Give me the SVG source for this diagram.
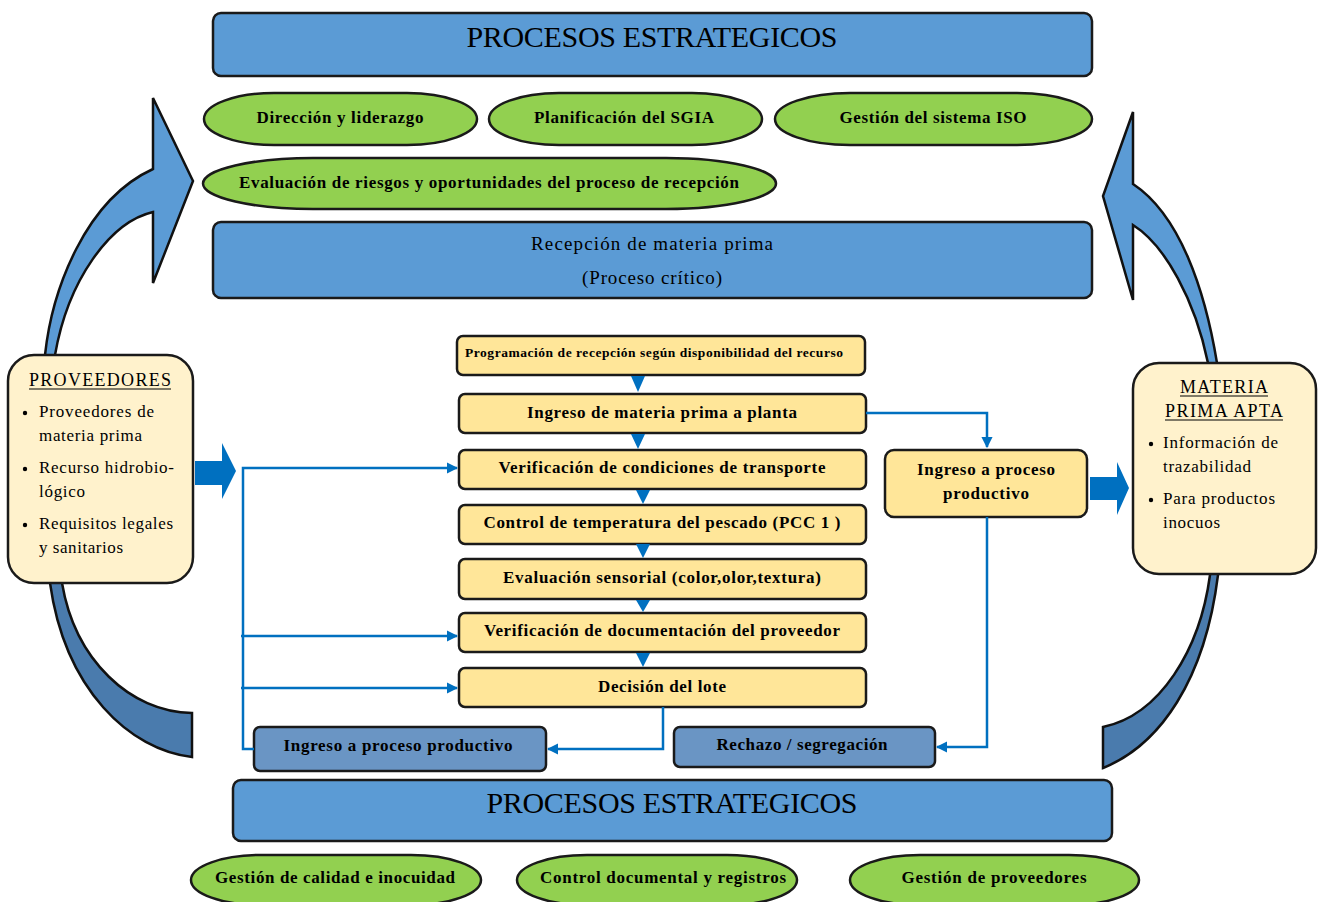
<svg xmlns="http://www.w3.org/2000/svg" width="1325" height="902" viewBox="0 0 1325 902">
<defs>
<style>
.ban{fill:#5b9bd5;stroke:#1a1a1a;stroke-width:2.5}
.grn{fill:#92d050;stroke:#1a1a1a;stroke-width:2.5}
.yel{fill:#ffe699;stroke:#1a1a1a;stroke-width:2.5}
.crm{fill:#fff2cc;stroke:#1a1a1a;stroke-width:2.5}
.stl{fill:#6a95c4;stroke:#1a1a1a;stroke-width:2.5}
.t{font-family:"Liberation Serif","DejaVu Serif",serif;fill:#000}
.b{font-weight:bold}
.c{text-anchor:middle}
.con{fill:none;stroke:#0070c0;stroke-width:2.5}
.tri{fill:#0070c0}
.big{fill:#0070c0}
.ul{stroke:#000;stroke-width:1.2}
.curv{stroke:#111;stroke-width:2.5;stroke-linejoin:miter}
</style>
<linearGradient id="gl" gradientUnits="userSpaceOnUse" x1="0" y1="0" x2="0" y2="902">
<stop offset="0.52" stop-color="#5b9bd5"/>
<stop offset="0.64" stop-color="#4a7bad"/>
</linearGradient>
<marker id="ah" viewBox="0 0 10 10" refX="9" refY="5" markerWidth="4.5" markerHeight="4.5" orient="auto" markerUnits="strokeWidth">
<path d="M0,0 L10,5 L0,10 Z" fill="#0070c0"/>
</marker>
</defs>
<rect x="0" y="0" width="1325" height="902" fill="#ffffff"/>

<g id="arrow-left">
<path class="curv" fill="url(#gl)" d="M192,757 C130,750 65,690 50,583 C40,510 38,420 45,355 C52,290 85,200 153,169 L153,98 L193,181 L153,283 L153,212 C110,222 68,280 55,355 C50,430 52,520 62,583 C75,660 130,712 192,713 Z"/>
</g>
<g id="arrow-right">
<path class="curv" fill="url(#gl)" d="M1103,768 C1160,745 1205,680 1218,575 C1228,500 1228,420 1217,363 C1205,290 1180,215 1133,184 L1133,112 L1103,196 L1133,300 L1133,225 C1165,245 1195,300 1208,363 C1215,420 1215,510 1210,575 C1200,650 1160,715 1103,727 Z"/>
</g>

<g id="top-banner">
<rect class="ban" x="213" y="13" width="879" height="63" rx="8"/>
<text class="t c" x="652" y="47" font-size="30" textLength="371">PROCESOS ESTRATEGICOS</text>
</g>
<g id="direccion">
<rect class="grn" x="204" y="93" width="273" height="52" rx="70" ry="26"/>
<text class="t b c" x="340" y="123" font-size="17" textLength="167">Dirección y liderazgo</text>
</g>
<g id="planificacion">
<rect class="grn" x="489" y="93" width="273" height="52" rx="70" ry="26"/>
<text class="t b c" x="624" y="123" font-size="17" textLength="180">Planificación del SGIA</text>
</g>
<g id="gestion-iso">
<rect class="grn" x="775" y="93" width="317" height="52" rx="75" ry="26"/>
<text class="t b c" x="933" y="123" font-size="17" textLength="187">Gestión del sistema ISO</text>
</g>
<g id="evaluacion-riesgos">
<rect class="grn" x="203" y="158" width="573" height="51" rx="110" ry="25.5"/>
<text class="t b c" x="489" y="188" font-size="17" textLength="500">Evaluación de riesgos y oportunidades del proceso de recepción</text>
</g>
<g id="recepcion">
<rect class="ban" x="213" y="222" width="879" height="76" rx="8"/>
<text class="t c" x="652" y="250" font-size="19" textLength="242">Recepción de materia prima</text>
<text class="t c" x="652" y="284" font-size="19" textLength="140">(Proceso crítico)</text>
</g>

<g id="proveedores">
<rect class="crm" x="8" y="355" width="185" height="228" rx="26"/>
<text class="t c" x="100" y="386" font-size="18" textLength="142">PROVEEDORES</text>
<line class="ul" x1="29" y1="389" x2="171" y2="389"/>
<circle cx="25" cy="413" r="2.2" fill="#000"/>
<circle cx="25" cy="469" r="2.2" fill="#000"/>
<circle cx="25" cy="525" r="2.2" fill="#000"/>
<text class="t" x="39" y="417" font-size="17" textLength="115">Proveedores de</text>
<text class="t" x="39" y="441" font-size="17" textLength="103">materia prima</text>
<text class="t" x="39" y="473" font-size="17" textLength="135">Recurso hidrobio-</text>
<text class="t" x="39" y="497" font-size="17" textLength="46">lógico</text>
<text class="t" x="39" y="529" font-size="17" textLength="134">Requisitos legales</text>
<text class="t" x="39" y="553" font-size="17" textLength="84">y sanitarios</text>
</g>
<g id="arrow-in">
<path class="big" d="M195,461 L222,461 L222,443 L236,471 L222,499 L222,485 L195,485 Z"/>
</g>

<g id="materia-prima-apta">
<rect class="crm" x="1133" y="363" width="183" height="211" rx="26"/>
<text class="t c" x="1224" y="393" font-size="18" textLength="88">MATERIA</text>
<line class="ul" x1="1180" y1="396" x2="1268" y2="396"/>
<text class="t c" x="1224" y="417" font-size="18" textLength="118">PRIMA APTA</text>
<line class="ul" x1="1165" y1="420" x2="1283" y2="420"/>
<circle cx="1151" cy="444" r="2.2" fill="#000"/>
<circle cx="1151" cy="500" r="2.2" fill="#000"/>
<text class="t" x="1163" y="448" font-size="17" textLength="115">Información de</text>
<text class="t" x="1163" y="472" font-size="17" textLength="88">trazabilidad</text>
<text class="t" x="1163" y="504" font-size="17" textLength="112">Para productos</text>
<text class="t" x="1163" y="528" font-size="17" textLength="57">inocuos</text>
</g>
<g id="arrow-out">
<path class="big" d="M1090,477 L1117,477 L1117,462 L1129,488 L1117,515 L1117,500 L1090,500 Z"/>
</g>

<g id="programacion">
<rect class="yel" x="457" y="336" width="408" height="39" rx="6"/>
<text class="t b" x="465" y="357" font-size="13.5" textLength="378">Programación de recepción según disponibilidad del recurso</text>
</g>
<g id="ingreso-planta">
<rect class="yel" x="459" y="394" width="407" height="39" rx="6"/>
<text class="t b c" x="662" y="418" font-size="17" textLength="270">Ingreso de materia prima a planta</text>
</g>
<g id="verif-transporte">
<rect class="yel" x="459" y="450" width="407" height="39" rx="6"/>
<text class="t b c" x="662" y="473" font-size="17" textLength="327">Verificación de condiciones de transporte</text>
</g>
<g id="control-temp">
<rect class="yel" x="459" y="505" width="407" height="39" rx="6"/>
<text class="t b c" x="662" y="528" font-size="17" textLength="357">Control de temperatura del pescado (PCC 1 )</text>
</g>
<g id="eval-sensorial">
<rect class="yel" x="459" y="559" width="407" height="40" rx="6"/>
<text class="t b c" x="662" y="583" font-size="17" textLength="318">Evaluación sensorial (color,olor,textura)</text>
</g>
<g id="verif-documentacion">
<rect class="yel" x="459" y="613" width="407" height="39" rx="6"/>
<text class="t b c" x="662" y="636" font-size="17" textLength="356">Verificación de documentación del proveedor</text>
</g>
<g id="decision-lote">
<rect class="yel" x="459" y="668" width="407" height="39" rx="6"/>
<text class="t b c" x="662" y="692" font-size="17" textLength="128">Decisión del lote</text>
</g>
<g id="ingreso-proceso-der">
<rect class="yel" x="885" y="450" width="202" height="67" rx="9"/>
<text class="t b c" x="986" y="475" font-size="17" textLength="138">Ingreso a proceso</text>
<text class="t b c" x="986" y="499" font-size="17" textLength="86">productivo</text>
</g>
<g id="ingreso-proceso-izq">
<rect class="stl" x="254" y="727" width="292" height="44" rx="6"/>
<text class="t b c" x="398" y="751" font-size="17" textLength="229">Ingreso a proceso productivo</text>
</g>
<g id="rechazo">
<rect class="stl" x="674" y="727" width="261" height="40" rx="6"/>
<text class="t b c" x="802" y="750" font-size="17" textLength="171">Rechazo / segregación</text>
</g>

<g id="connectors">
<path class="tri" d="M631,376 L645,376 L638,392 Z"/>
<path class="tri" d="M631,434 L645,434 L638,449 Z"/>
<path class="tri" d="M636,490 L650,490 L643,504 Z"/>
<path class="tri" d="M636,544 L650,544 L643,558 Z"/>
<path class="tri" d="M636,600 L650,600 L643,612 Z"/>
<path class="tri" d="M636,653 L650,653 L643,667 Z"/>
<path class="con" d="M866,413 L987,413 L987,447" marker-end="url(#ah)"/>
<path class="con" d="M987,517 L987,747 L937,747" marker-end="url(#ah)"/>
<path class="con" d="M663,707 L663,749 L548,749" marker-end="url(#ah)"/>
<path class="con" d="M254,749 L243,749 L243,468 L457,468" marker-end="url(#ah)"/>
<path class="con" d="M241,636 L457,636" marker-end="url(#ah)"/>
<path class="con" d="M241,688 L457,688" marker-end="url(#ah)"/>
</g>

<g id="bottom-banner">
<rect class="ban" x="233" y="780" width="879" height="61" rx="8"/>
<text class="t c" x="672" y="813" font-size="30" textLength="371">PROCESOS ESTRATEGICOS</text>
</g>
<g id="gestion-calidad">
<rect class="grn" x="191" y="855" width="290" height="50" rx="70" ry="25"/>
<text class="t b c" x="335" y="883" font-size="17" textLength="240">Gestión de calidad e inocuidad</text>
</g>
<g id="control-documental">
<rect class="grn" x="517" y="855" width="280" height="50" rx="70" ry="25"/>
<text class="t b c" x="663" y="883" font-size="17" textLength="246">Control documental y registros</text>
</g>
<g id="gestion-proveedores">
<rect class="grn" x="850" y="855" width="289" height="50" rx="70" ry="25"/>
<text class="t b c" x="994" y="883" font-size="17" textLength="185">Gestión de proveedores</text>
</g>
</svg>
